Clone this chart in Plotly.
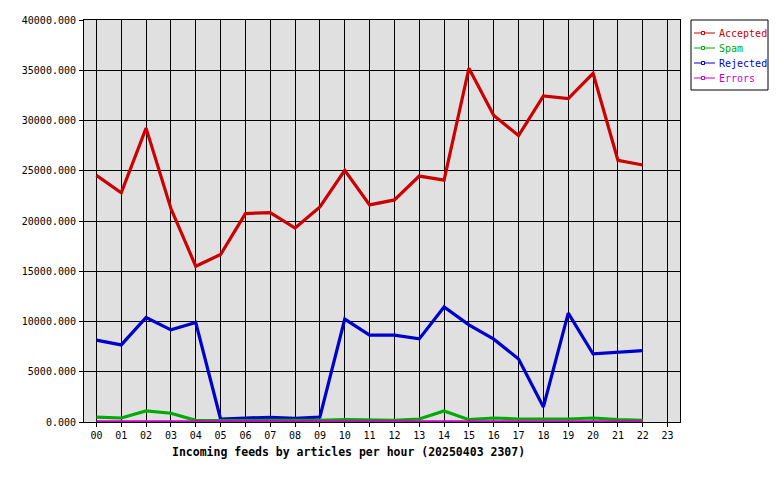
import plotly.graph_objects as go

hours = ["00","01","02","03","04","05","06","07","08","09","10","11",
         "12","13","14","15","16","17","18","19","20","21","22","23"]
data_hours = hours[:23]

accepted = [24540, 22800, 29240, 21240, 15500, 16670, 20740, 20840, 19300, 21400, 25040, 21600,
            22100, 24470, 24070, 35200, 30500, 28500, 32440, 32170, 34700, 26040, 25570]
spam = [480, 400, 1100, 870, 170, 120, 130, 170, 170, 170, 250, 170,
        170, 300, 1100, 230, 400, 300, 300, 300, 400, 230, 170]
rejected = [8140, 7670, 10400, 9170, 9900, 300, 400, 470, 370, 500, 10240, 8640,
            8640, 8270, 11440, 9670, 8240, 6270, 1500, 10840, 6770, 6900, 7100]
errors = [10] * 23

series_names = ["Accepted", "Spam", "Rejected", "Errors"]
series_values = [accepted, spam, rejected, errors]
series_colors = ["#cc0000", "#00aa00", "#0000cc", "#cc00cc"]

FONT = "DejaVu Sans Mono"
W, H = 780, 480
ML, MR, MT, MB = 84, 100, 20, 58
PW, PH = W - ML - MR, H - MT - MB

def px_x(px):
    return (px - ML) / PW

def px_y(py):
    return (H - MB - py) / PH

fig = go.Figure()

for idx in [0, 2, 1, 3]:
    fig.add_trace(go.Scatter(x=data_hours, y=series_values[idx], mode="lines",
                             line=dict(color=series_colors[idx], width=3.2),
                             showlegend=False, hoverinfo="skip"))

# manual legend box
shapes = [dict(type="rect", xref="paper", yref="paper",
               x0=px_x(691), x1=px_x(768), y0=px_y(90), y1=px_y(20),
               line=dict(color="black", width=1), fillcolor="white", layer="above")]
annotations = []
for i, (name, col) in enumerate(zip(series_names, series_colors)):
    yc = 33 + 15 * i
    shapes.append(dict(type="line", xref="paper", yref="paper",
                       x0=px_x(694), x1=px_x(715), y0=px_y(yc), y1=px_y(yc),
                       line=dict(color=col, width=1), layer="above"))
    shapes.append(dict(type="rect", xref="paper", yref="paper",
                       x0=px_x(701.5), x1=px_x(704.5), y0=px_y(yc + 1.5), y1=px_y(yc - 1.5),
                       line=dict(color=col, width=1), fillcolor="white", layer="above"))
    annotations.append(dict(text=name, xref="paper", yref="paper",
                            x=px_x(717), y=px_y(yc), xanchor="left", yanchor="middle",
                            showarrow=False,
                            font=dict(family=FONT, size=10, color=col)))

annotations.append(dict(text="<b>Incoming feeds by articles per hour (20250403 2307)</b>",
                        xref="paper", yref="paper", x=px_x(348), y=px_y(452),
                        xanchor="center", yanchor="middle", showarrow=False,
                        font=dict(family=FONT, size=11.5, color="black")))

fig.update_layout(
    width=W, height=H,
    margin=dict(l=ML, r=MR, t=MT, b=MB, autoexpand=False),
    paper_bgcolor="white", plot_bgcolor="#e0e0e0",
    font=dict(family=FONT, size=10, color="black"),
    showlegend=False,
    shapes=shapes,
    annotations=annotations,
)

fig.update_xaxes(type="category", categoryorder="array", categoryarray=hours,
                 tickvals=hours, ticktext=hours, range=[-0.5, 23.5],
                 showgrid=True, gridcolor="black", gridwidth=1,
                 showline=True, linecolor="black", linewidth=1, mirror=True,
                 ticks="outside", ticklen=4, tickcolor="black", zeroline=False,
                 automargin=False, tickfont=dict(family=FONT, size=10))
fig.update_yaxes(range=[0, 40000], dtick=5000, tickformat=".3f",
                 showgrid=True, gridcolor="black", gridwidth=1,
                 showline=True, linecolor="black", linewidth=1, mirror=True,
                 ticks="outside", ticklen=4, tickcolor="black", zeroline=False,
                 ticklabelstandoff=1,
                 automargin=False, tickfont=dict(family=FONT, size=10))

fig.write_html("out.html",
               config={"displayModeBar": False},
               post_script="document.body.style.margin='0';document.body.style.overflow='hidden';")
